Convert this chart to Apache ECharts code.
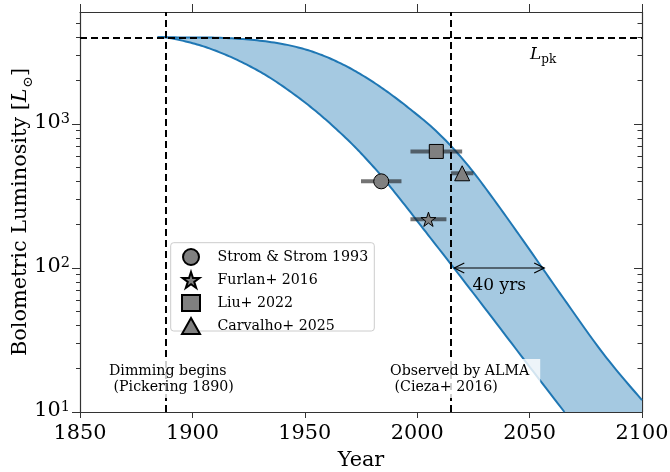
<!DOCTYPE html>
<html>
<head>
<meta charset="utf-8">
<script src="https://cdn.jsdelivr.net/npm/echarts@6/dist/echarts.min.js"></script>
<style>
  html, body { margin: 0; padding: 0; background: #fff; }
  #chart { width: 670px; height: 472px; }
</style>
</head>
<body>
<div id="chart"></div>
<script>
// Axis ticks
const yearTicks = [1850, 1900, 1950, 2000, 2050, 2100];
const lumMin = 10;
const lumMax = 6000;
const lumMajorTicks = [10, 100, 1000];
const lumMinorTicks = [20, 30, 40, 50, 60, 70, 80, 90,
                       200, 300, 400, 500, 600, 700, 800, 900,
                       2000, 3000, 4000, 5000];

// Reference epochs and peak luminosity
const peakLum = 4000;
const dimmingYear = 1888;
const almaYear = 2015;

// Fading envelope: fast (lower) and slow (upper) decline
const lowerYears = [1884.5, 1888, 1896, 1904, 1911, 1918, 1926, 1933, 1940, 1948, 1955, 1962,
                    1970, 1976, 1983.5, 1991, 1998, 2006, 2016, 2025, 2035, 2050, 2065.5];
const lowerLum   = [4000, 4000, 3780, 3500, 3200, 2880, 2500, 2170, 1840, 1495, 1225, 985,
                    753, 603, 447, 321, 233, 161, 101.5, 66.8, 41.8, 20.6, 10];
const upperYears = [1884.5, 1888, 1900, 1910, 1920, 1930, 1940, 1948, 1955, 1962, 1970, 1977,
                    1984, 1991, 1998, 2006, 2015, 2024, 2033, 2044, 2056, 2065, 2080, 2090, 2100];
const upperLum   = [4000, 4000, 3995, 3980, 3915, 3795, 3600, 3375, 3120, 2820, 2450, 2115,
                    1795, 1495, 1228, 968, 705, 485, 316, 182, 98.3, 61.9, 29.0, 18.4, 12.1];

// Luminosity estimates
const obsNames   = ['Strom & Strom 1993', 'Furlan+ 2016', 'Liu+ 2022', 'Carvalho+ 2025'];
const obsYears   = [1984, 2005, 2008.5, 2020];
const obsYearErr = [9, 8, 11.5, 5];
const obsLum     = [400, 218, 645, 455];

// Delay arrow between the two curves
const arrowYears = [2016.5, 2056.5];
const arrowLum = 100;
const arrowLabel = '40 yrs';

const SERIF = "'DejaVu Serif', 'Liberation Serif', serif";
const AXIS_FONT = 20.8;
const AXIS_COLOR = '#333';
const BAND_FILL = '#a5c9e1';
const BAND_EDGE = '#1f77b4';
const MARKER_FILL = '#808080';
const STAR = 'path://M0,-10L2.245,-3.09L9.511,-3.09L3.633,1.18L5.878,8.09L0,3.82L-5.878,8.09L-3.633,1.18L-9.511,-3.09L-2.245,-3.09Z';
const obsSymbols = ['circle', STAR, 'rect', 'triangle'];
const obsSizes = [15, 15, 14, 15];

const chart = echarts.init(document.getElementById('chart'), null, { renderer: 'canvas' });

// Catmull-Rom resampling of pixel points so the curve edges render smoothly
function smoothPixels(pts, steps) {
  const out = [];
  for (let i = 0; i < pts.length - 1; i++) {
    const p0 = pts[Math.max(i - 1, 0)], p1 = pts[i], p2 = pts[i + 1], p3 = pts[Math.min(i + 2, pts.length - 1)];
    for (let s = 0; s < steps; s++) {
      const t = s / steps, t2 = t * t, t3 = t2 * t;
      const f = k => 0.5 * ((2 * p1[k]) + (-p0[k] + p2[k]) * t +
        (2 * p0[k] - 5 * p1[k] + 4 * p2[k] - p3[k]) * t2 +
        (-p0[k] + 3 * p1[k] - 3 * p2[k] + p3[k]) * t3);
      out.push([f(0), f(1)]);
    }
  }
  out.push(pts[pts.length - 1]);
  return out;
}

const tickLine = { color: AXIS_COLOR, width: 1 };
function logAxis(extra) {
  return Object.assign({
    type: 'log', logBase: 10, min: lumMin, max: lumMax,
    splitLine: { show: false },
    axisLine: { show: false },
    axisTick: { show: false },
    axisLabel: { show: false }
  }, extra);
}

const scatterSeries = obsNames.map((name, i) => ({
  name: name,
  type: 'scatter',
  z: 5,
  symbol: obsSymbols[i],
  symbolSize: obsSizes[i],
  symbolKeepAspect: true,
  itemStyle: { color: MARKER_FILL, borderColor: '#000', borderWidth: 1, opacity: 1 },
  data: [[obsYears[i], obsLum[i]]]
}));

const option = {
  animation: false,
  backgroundColor: '#fff',
  grid: { left: 80, right: 28, top: 12, bottom: 60, containLabel: false, outerBoundsMode: 'none' },
  xAxis: [
    {
      type: 'value', min: yearTicks[0], max: yearTicks[yearTicks.length - 1], interval: 50,
      position: 'bottom',
      axisLine: { onZero: false, lineStyle: { color: AXIS_COLOR, width: 1.2 } },
      axisTick: { length: 6, lineStyle: tickLine },
      axisLabel: { margin: 11, fontFamily: SERIF, fontSize: AXIS_FONT, color: '#000', formatter: v => String(v) },
      splitLine: { show: false },
      name: 'Year', nameLocation: 'middle', nameGap: 38.5, nameMoveOverlap: false,
      nameTextStyle: { fontFamily: SERIF, fontSize: AXIS_FONT, color: '#000' }
    },
    {
      type: 'value', min: yearTicks[0], max: yearTicks[yearTicks.length - 1], interval: 50,
      position: 'top',
      axisLine: { onZero: false, lineStyle: { color: AXIS_COLOR, width: 1.2 } },
      axisTick: { length: 8, lineStyle: tickLine },
      axisLabel: { show: false },
      splitLine: { show: false }
    }
  ],
  yAxis: [
    logAxis({
      position: 'left',
      axisLine: { show: true, lineStyle: { color: AXIS_COLOR, width: 1.2 } },
      axisTick: { show: true, length: 8, customValues: lumMajorTicks, lineStyle: tickLine },
      axisLabel: {
        show: true, margin: 10, customValues: lumMajorTicks,
        formatter: v => '{b|10}{s|' + Math.round(Math.log10(v)) + '}',
        rich: {
          b: { fontFamily: SERIF, fontSize: AXIS_FONT, color: '#000', lineHeight: 24, verticalAlign: 'top' },
          s: { fontFamily: SERIF, fontSize: 14.5, color: '#000', lineHeight: 16, verticalAlign: 'top' }
        }
      },
      name: '{n|Bolometric Luminosity [}{i|L}{o|\u2299}{n|]}',
      nameLocation: 'middle', nameGap: 46, nameRotate: 90, nameMoveOverlap: false,
      nameTextStyle: {
        rich: {
          n: { fontFamily: SERIF, fontSize: AXIS_FONT, color: '#000', lineHeight: 24, verticalAlign: 'top' },
          i: { fontFamily: SERIF, fontSize: AXIS_FONT, fontStyle: 'italic', color: '#000', lineHeight: 24, verticalAlign: 'top' },
          o: { fontFamily: SERIF, fontSize: 13.5, color: '#000', lineHeight: 13, padding: [11, 0, 0, 1], verticalAlign: 'top' }
        }
      }
    }),
    logAxis({
      position: 'left',
      axisTick: { show: true, length: 4, customValues: lumMinorTicks, lineStyle: tickLine }
    }),
    logAxis({
      position: 'right',
      axisLine: { show: true, lineStyle: { color: AXIS_COLOR, width: 1.2 } },
      axisTick: { show: true, inside: true, length: 8, customValues: lumMajorTicks, lineStyle: tickLine }
    }),
    logAxis({
      position: 'right',
      axisTick: { show: true, inside: true, length: 4.5, customValues: lumMinorTicks, lineStyle: tickLine }
    })
  ],
  legend: {
    orient: 'vertical',
    left: 181, top: 248,
    padding: 0,
    itemWidth: 18, itemHeight: 16, itemGap: 5,
    z: 8,
    data: obsNames,
    textStyle: { fontFamily: SERIF, fontSize: 14.2, lineHeight: 16, color: '#000', padding: [0, 0, 0, 12.5] }
  },
  series: [
    {
      // shaded envelope between both decline curves
      type: 'custom', z: 1, silent: true,
      data: [[lowerYears[0], lowerLum[0]]],
      encode: { x: 0, y: 1 },
      renderItem: function (params, api) {
        const lowPts = smoothPixels(lowerYears.map((t, i) => api.coord([t, lowerLum[i]])), 8);
        const upPts = smoothPixels(upperYears.map((t, i) => api.coord([t, upperLum[i]])), 8);
        const corner = api.coord([yearTicks[yearTicks.length - 1], lumMin]);
        const poly = lowPts.concat([corner], upPts.slice().reverse());
        return {
          type: 'group',
          children: [
            { type: 'polygon', shape: { points: poly }, style: { fill: BAND_FILL, stroke: null } },
            { type: 'polyline', shape: { points: lowPts }, style: { stroke: BAND_EDGE, lineWidth: 2, fill: null } },
            { type: 'polyline', shape: { points: upPts }, style: { stroke: BAND_EDGE, lineWidth: 2, fill: null } }
          ]
        };
      }
    },
    {
      // horizontal error bars on the year of each estimate
      type: 'custom', z: 2, silent: true,
      data: obsYears.map((t, i) => [t, obsLum[i], obsYearErr[i]]),
      encode: { x: 0, y: 1 },
      renderItem: function (params, api) {
        const t = api.value(0), l = api.value(1), e = api.value(2);
        const a = api.coord([t - e, l]);
        const b = api.coord([t + e, l]);
        return {
          type: 'line',
          shape: { x1: a[0], y1: a[1], x2: b[0], y2: b[1] },
          style: { stroke: 'rgba(30,30,30,0.62)', lineWidth: 4, lineCap: 'butt' }
        };
      }
    },
    {
      // reference epochs and peak luminosity
      type: 'line', z: 3, data: [], silent: true,
      markLine: {
        silent: true, symbol: ['none', 'none'], label: { show: false },
        lineStyle: { color: '#000', type: [7, 4], width: 2 },
        data: [{ xAxis: dimmingYear }, { xAxis: almaYear }, { yAxis: peakLum }]
      }
    },
    {
      // delay arrow
      type: 'custom', z: 3, silent: true,
      data: [[arrowYears[0], arrowLum]],
      encode: { x: 0, y: 1 },
      renderItem: function (params, api) {
        const a = api.coord([arrowYears[0], arrowLum]);
        const b = api.coord([arrowYears[1], arrowLum]);
        const h = 10, w = 5;
        const st = { stroke: '#000', lineWidth: 1.2, fill: null };
        return {
          type: 'group',
          children: [
            { type: 'line', shape: { x1: a[0], y1: a[1], x2: b[0], y2: b[1] }, style: st },
            { type: 'polyline', shape: { points: [[a[0] + h, a[1] - w], [a[0], a[1]], [a[0] + h, a[1] + w]] }, style: st },
            { type: 'polyline', shape: { points: [[b[0] - h, b[1] - w], [b[0], b[1]], [b[0] - h, b[1] + w]] }, style: st },
            {
              type: 'text', x: (a[0] + b[0]) / 2, y: a[1] + 18,
              style: { text: arrowLabel, fontFamily: SERIF, fontSize: 17, fill: '#000', align: 'center', verticalAlign: 'middle' }
            }
          ]
        };
      }
    }
  ].concat(scatterSeries),
  graphic: [
    {
      type: 'rect', z: 7, silent: true,
      shape: { x: 170.7, y: 242.7, width: 203.6, height: 88.3, r: 3 },
      style: { fill: 'rgba(255,255,255,0.8)', stroke: '#cccccc', lineWidth: 1 }
    },
    {
      type: 'text', z: 20, silent: true, x: 103, y: 359,
      style: {
        text: 'Dimming begins\n (Pickering 1890)',
        fontFamily: SERIF, fontSize: 14.2, lineHeight: 16.5, fill: '#000',
        align: 'left', verticalAlign: 'top',
        backgroundColor: 'rgba(255,255,255,0.8)', padding: [4, 6, 2, 6]
      }
    },
    {
      type: 'text', z: 20, silent: true, x: 379, y: 359,
      style: {
        text: 'Observed by ALMA\n (Cieza+ 2016)',
        fontFamily: SERIF, fontSize: 14.2, lineHeight: 16.5, fill: '#000',
        align: 'left', verticalAlign: 'top',
        backgroundColor: 'rgba(255,255,255,0.8)', padding: [4, 11, 2, 11]
      }
    },
    {
      type: 'text', z: 20, silent: true, x: 530, y: 46,
      style: {
        text: '{i|L}{s|pk}',
        align: 'left', verticalAlign: 'top',
        rich: {
          i: { fontFamily: SERIF, fontStyle: 'italic', fontSize: 17, fill: '#000', lineHeight: 17, verticalAlign: 'top' },
          s: { fontFamily: SERIF, fontSize: 12, fill: '#000', lineHeight: 12, padding: [8, 0, 0, 0], verticalAlign: 'top' }
        }
      }
    }
  ]
};

chart.setOption(option);
</script>
</body>
</html>
